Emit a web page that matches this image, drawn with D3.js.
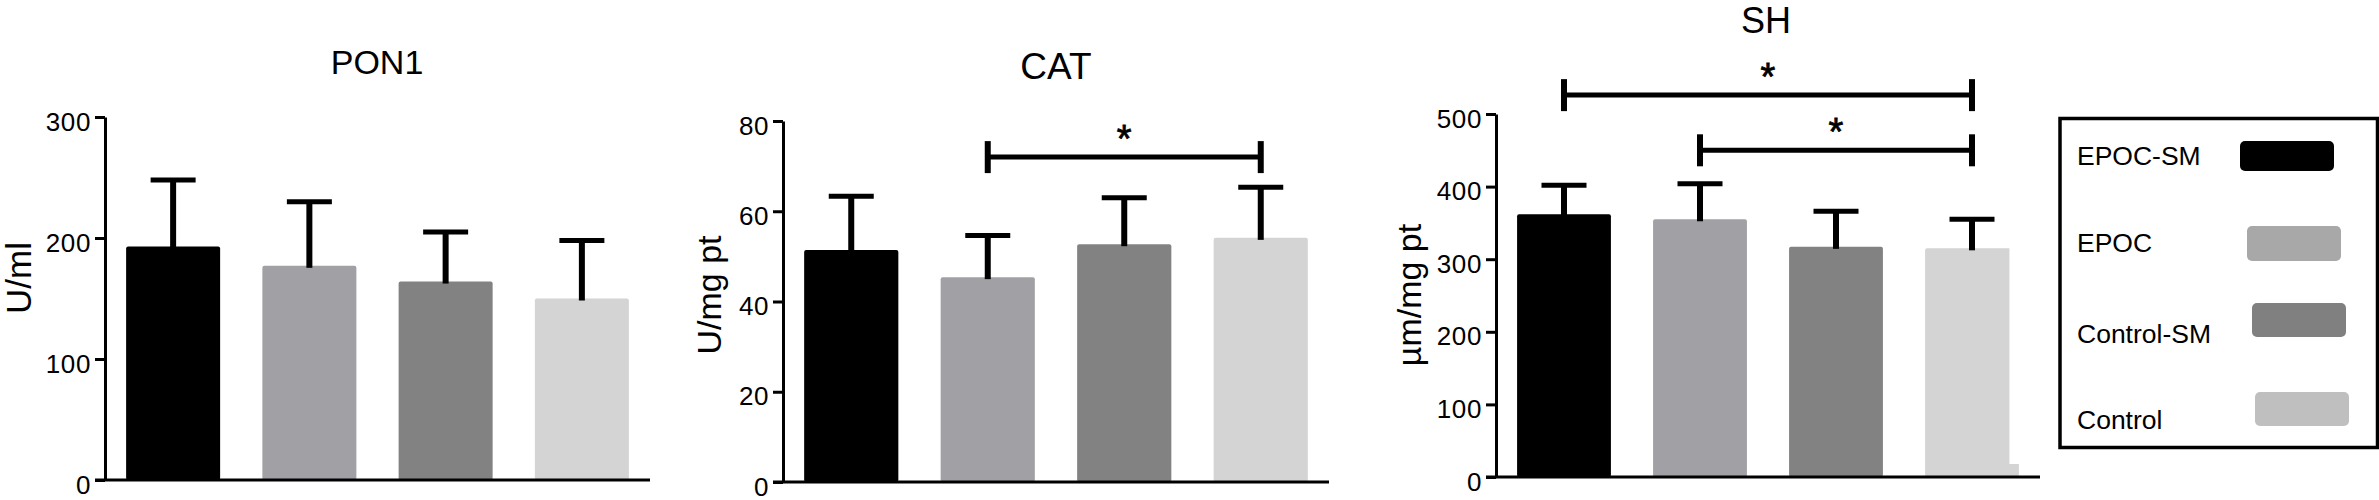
<!DOCTYPE html>
<html>
<head>
<meta charset="utf-8">
<script src="https://cdn.jsdelivr.net/npm/d3@7"></script>
<style>
  body { margin: 0; background: #fff; }
  text { font-family: "Liberation Sans", Arial, Helvetica, sans-serif; fill: #000; }
</style>
</head>
<body>
<div class="canvas"></div>
<script>
// groups and their colours
const groups = ['EPOC-SM', 'EPOC', 'Control-SM', 'Control'];
const barColors = ['#000000', '#a1a1a5', '#828282', '#d4d4d4'];
const legendColors = ['#000000', '#a8a8a8', '#808080', '#bfbfbf'];

// PON1
const pon1Mean = [193, 177, 164, 150];
const pon1Sd = [55, 53, 41, 48];
const pon1Ticks = [0, 100, 200, 300];

// CAT
const catMean = [51.4, 45.4, 52.7, 54.1];
const catSd = [11.9, 9.2, 10.3, 11.2];
const catTicks = [0, 20, 40, 60, 80];
const catSig = [{ from: 'EPOC', to: 'Control', level: 72 }];

// SH
const shMean = [362, 355, 317, 315];
const shSd = [40, 49, 49, 40];
const shTicks = [0, 100, 200, 300, 400, 500];
const shSig = [
  { from: 'EPOC-SM', to: 'Control', level: 526 },
  { from: 'EPOC', to: 'Control', level: 450 }
];

const width = 2379, height = 500;

const svg = d3.select('.canvas')
  .append('svg')
  .attr('width', width)
  .attr('height', height);

// panel layout
const panels = [
  { title: 'PON1', label: 'U/ml', mean: pon1Mean, sd: pon1Sd, ticks: pon1Ticks, sig: [],
    x0: 105, x1: 650, yBase: 480, yTop: 117,
    titleX: 377, titleY: 74, titleSize: 34, labelX: 31, labelY: 278, labelSize: 35 },
  { title: 'CAT', label: 'U/mg pt', mean: catMean, sd: catSd, ticks: catTicks, sig: catSig,
    x0: 783, x1: 1329, yBase: 482, yTop: 121,
    titleX: 1056, titleY: 79, titleSize: 37, labelX: 721, labelY: 295, labelSize: 34 },
  { title: 'SH', label: 'µm/mg pt', mean: shMean, sd: shSd, ticks: shTicks, sig: shSig,
    x0: 1496, x1: 2040, yBase: 477, yTop: 114,
    titleX: 1766, titleY: 33, titleSize: 36, labelX: 1421, labelY: 295, labelSize: 34 }
];

panels.forEach((p, pi) => {
  const g = svg.append('g');

  const x = d3.scaleBand()
    .domain(groups)
    .range([p.x0, p.x1])
    .paddingInner(0.31)
    .paddingOuter(0.155);

  const y = d3.scaleLinear()
    .domain([0, d3.max(p.ticks)])
    .range([p.yBase, p.yTop]);

  const data = groups.map((name, i) => ({ name, mean: p.mean[i], sd: p.sd[i], color: barColors[i] }));

  // bars
  g.selectAll('rect.bar')
    .data(data)
    .enter()
    .append('rect')
    .attr('class', 'bar')
    .attr('x', d => x(d.name))
    .attr('y', d => y(d.mean))
    .attr('width', x.bandwidth())
    .attr('height', d => y(0) - y(d.mean))
    .attr('rx', 2)
    .attr('fill', d => d.color);

  // error bars
  const capW = 45;
  g.selectAll('line.stem')
    .data(data)
    .enter()
    .append('line')
    .attr('x1', d => x(d.name) + x.bandwidth() / 2)
    .attr('x2', d => x(d.name) + x.bandwidth() / 2)
    .attr('y1', d => y(d.mean) + 2)
    .attr('y2', d => y(d.mean + d.sd))
    .attr('stroke', '#000')
    .attr('stroke-width', 6);
  g.selectAll('line.cap')
    .data(data)
    .enter()
    .append('line')
    .attr('x1', d => x(d.name) + x.bandwidth() / 2 - capW / 2)
    .attr('x2', d => x(d.name) + x.bandwidth() / 2 + capW / 2)
    .attr('y1', d => y(d.mean + d.sd))
    .attr('y2', d => y(d.mean + d.sd))
    .attr('stroke', '#000')
    .attr('stroke-width', 5);

  // the SH control bar is partly hidden behind the legend's white backing
  if (pi === 2) {
    const last = data[3];
    g.append('rect')
      .attr('x', x(last.name) + x.bandwidth() - 9.5)
      .attr('y', y(last.mean) - 2)
      .attr('width', 12)
      .attr('height', y(0) - y(last.mean) - 11)
      .attr('fill', '#fff');
  }

  // y axis
  const yAxis = d3.axisLeft(y)
    .tickValues(p.ticks)
    .tickSize(10)
    .tickSizeOuter(0)
    .tickPadding(4)
    .tickFormat(d3.format('d'));

  const yAxisGroup = g.append('g')
    .attr('transform', `translate(${p.x0},0)`)
    .call(yAxis);
  yAxisGroup.select('.domain').attr('stroke', '#000').attr('stroke-width', 3);
  yAxisGroup.selectAll('.tick line').attr('stroke', '#000').attr('stroke-width', 3);
  yAxisGroup.selectAll('.tick text')
    .attr('font-size', 26)
    .attr('letter-spacing', 0.6)
    .attr('font-family', '"Liberation Sans", Arial, sans-serif')
    .attr('dy', '0.5em')
    .attr('fill', '#000');

  // x axis line
  g.append('line')
    .attr('x1', p.x0 - 10)
    .attr('x2', p.x1)
    .attr('y1', y(0))
    .attr('y2', y(0))
    .attr('stroke', '#000')
    .attr('stroke-width', 3);

  // title
  g.append('text')
    .attr('x', p.titleX)
    .attr('y', p.titleY)
    .attr('text-anchor', 'middle')
    .attr('font-size', p.titleSize)
    .text(p.title);

  // y label
  g.append('text')
    .attr('transform', `translate(${p.labelX},${p.labelY}) rotate(-90)`)
    .attr('text-anchor', 'middle')
    .attr('font-size', p.labelSize)
    .text(p.label);

  // significance brackets
  p.sig.forEach(s => {
    const xa = x(s.from) + x.bandwidth() / 2;
    const xb = x(s.to) + x.bandwidth() / 2;
    const ly = y(s.level);
    const br = g.append('g');
    br.append('line')
      .attr('x1', xa).attr('x2', xb)
      .attr('y1', ly).attr('y2', ly)
      .attr('stroke', '#000').attr('stroke-width', 5);
    [xa, xb].forEach(xx => {
      br.append('line')
        .attr('x1', xx).attr('x2', xx)
        .attr('y1', ly - 16).attr('y2', ly + 16)
        .attr('stroke', '#000').attr('stroke-width', 6);
    });
    br.append('text')
      .attr('x', (xa + xb) / 2)
      .attr('y', ly - 5)
      .attr('text-anchor', 'middle')
      .attr('font-size', 38)
      .attr('stroke', '#000')
      .attr('stroke-width', 0.8)
      .text('*');
  });
});

// legend
const legend = svg.append('g');
legend.append('rect')
  .attr('x', 2060)
  .attr('y', 118.5)
  .attr('width', 317.5)
  .attr('height', 329)
  .attr('fill', 'none')
  .attr('stroke', '#000')
  .attr('stroke-width', 3.5);

const legendTextY = [165, 252, 343, 429];
const legendSwatch = [
  { x: 2240, y: 141, h: 30 },
  { x: 2247, y: 226, h: 35 },
  { x: 2252, y: 303, h: 34 },
  { x: 2255, y: 392, h: 34 }
];

legend.selectAll('text.item')
  .data(groups)
  .enter()
  .append('text')
  .attr('x', 2077)
  .attr('y', (d, i) => legendTextY[i])
  .attr('font-size', 26.5)
  .text(d => d);

legend.selectAll('rect.swatch')
  .data(groups)
  .enter()
  .append('rect')
  .attr('x', (d, i) => legendSwatch[i].x)
  .attr('y', (d, i) => legendSwatch[i].y)
  .attr('width', 94)
  .attr('height', (d, i) => legendSwatch[i].h)
  .attr('rx', 5)
  .attr('fill', (d, i) => legendColors[i]);
</script>
</body>
</html>
